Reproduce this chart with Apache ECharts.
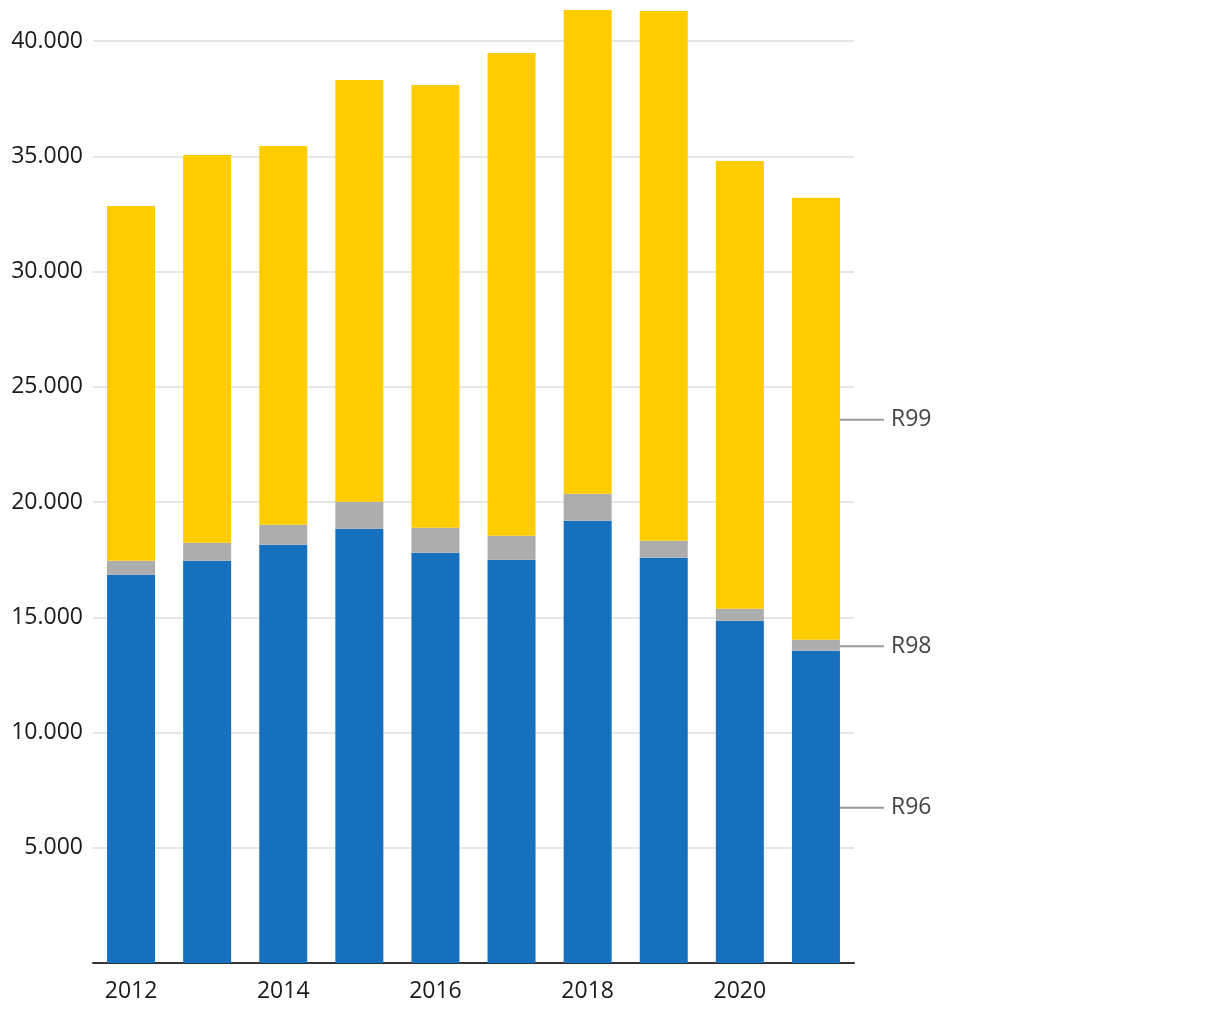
<!DOCTYPE html>
<html>
<head>
<meta charset="utf-8">
<script src="https://cdn.jsdelivr.net/npm/echarts@6/dist/echarts.min.js"></script>
<style>
html,body{margin:0;padding:0;background:#fff;}
#chart{width:1220px;height:1020px;}
</style>
</head>
<body>
<div id="chart"></div>
<script>
const years = ['2012','2013','2014','2015','2016','2017','2018','2019','2020','2021'];
const r96 = [16850, 17450, 18150, 18840, 17800, 17500, 19190, 17585, 14850, 13550];
const r98 = [600, 780, 870, 1170, 1085, 1040, 1170, 737, 520, 480];
const r99 = [15400, 16830, 16430, 18300, 19210, 20945, 20990, 22983, 19430, 19170];
const seriesNames = ['R96', 'R98', 'R99'];
const seriesColors = ['#1670bd', '#adadad', '#ffcc00'];

const FONT = 'Open Sans';

function fmt(v){ return String(v).replace(/\B(?=(\d{3})+(?!\d))/g, '.'); }

function buildData(arr, name){
  return arr.map((v, i) => {
    if (i === arr.length - 1) {
      return {
        value: v,
        label: {
          show: true,
          position: 'right',
          distance: 0,
          offset: [0, 1],
          formatter: '{l| }{t|' + name + '}',
          rich: {
            l: { width: 44, height: 2, backgroundColor: '#999999' },
            t: { fontFamily: FONT, fontSize: 23, color: '#444444', padding: [0, 0, 0, 7] }
          }
        }
      };
    }
    return v;
  });
}

const chart = echarts.init(document.getElementById('chart'), null, {renderer: 'canvas'});
chart.setOption({
  animation: false,
  backgroundColor: '#ffffff',
  grid: { left: 93, width: 761, top: 10, bottom: 57, containLabel: false },
  xAxis: {
    type: 'category',
    data: years,
    axisLine: { show: true, lineStyle: { color: '#333333', width: 2 } },
    axisTick: { show: false },
    axisLabel: { interval: 1, margin: 17, fontFamily: FONT, fontSize: 23, color: '#1a1a1a' },
    splitLine: { show: false }
  },
  yAxis: {
    type: 'value',
    min: 0,
    max: function (v) { return v.max; },
    interval: 5000,
    axisLine: { show: false },
    axisTick: { show: false },
    axisLabel: {
      margin: 10, fontFamily: FONT, fontSize: 23, color: '#1a1a1a',
      showMinLabel: false, showMaxLabel: false,
      formatter: function (v) { return v % 5000 === 0 && v > 0 ? fmt(v) : ''; }
    },
    splitLine: { show: true, showMinLine: false, showMaxLine: false, lineStyle: { color: '#e6e6e6', width: 2 } }
  },
  series: [
    { name: seriesNames[0], type: 'bar', stack: 'a', barWidth: 48, itemStyle: { color: seriesColors[0] }, data: buildData(r96, seriesNames[0]) },
    { name: seriesNames[1], type: 'bar', stack: 'a', barWidth: 48, itemStyle: { color: seriesColors[1] }, data: buildData(r98, seriesNames[1]) },
    { name: seriesNames[2], type: 'bar', stack: 'a', barWidth: 48, itemStyle: { color: seriesColors[2] }, data: buildData(r99, seriesNames[2]) }
  ]
});
</script>
</body>
</html>
